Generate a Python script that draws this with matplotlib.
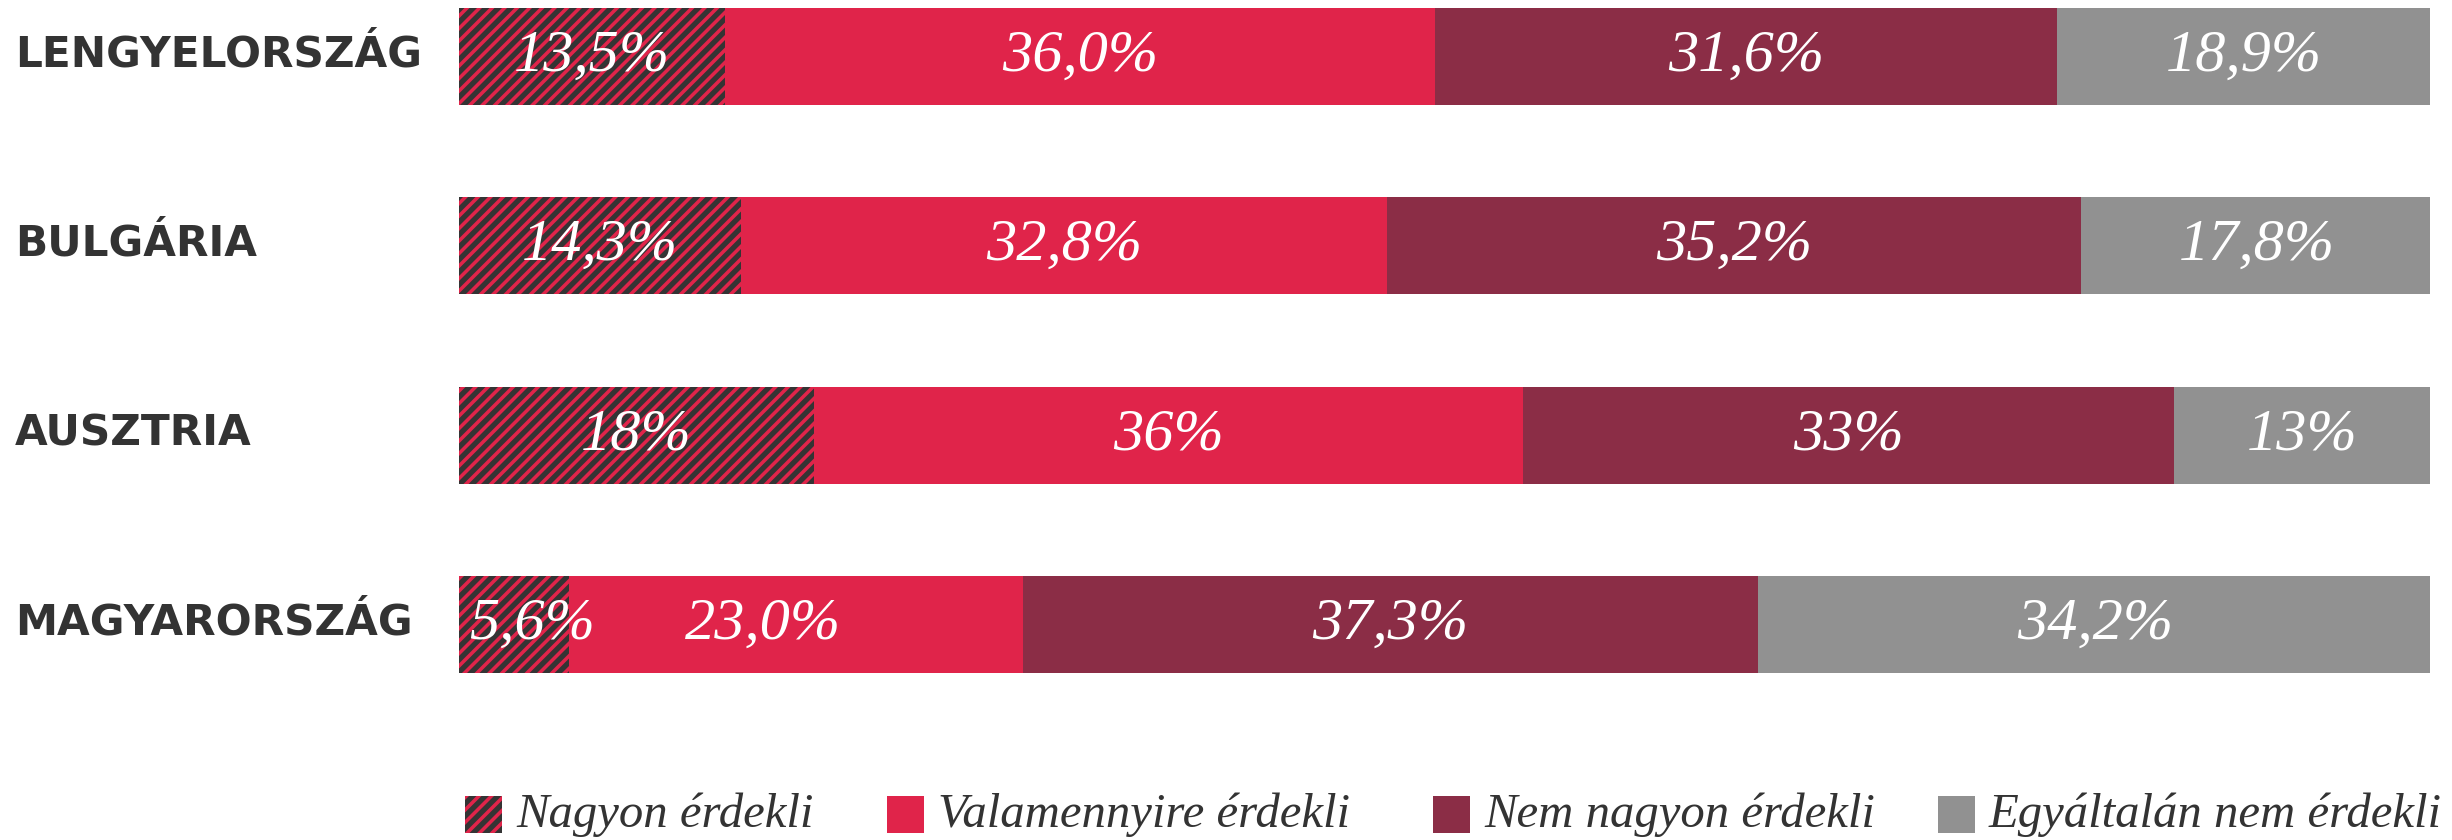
import numpy as np
import matplotlib
matplotlib.use("Agg")
import matplotlib.pyplot as plt
from matplotlib.patches import Rectangle

countries = ["LENGYELORSZÁG", "BULGÁRIA", "AUSZTRIA", "MAGYARORSZÁG"]
series = ["Nagyon érdekli", "Valamennyire érdekli", "Nem nagyon érdekli",
          "Egyáltalán nem érdekli"]
nagyon = [13.5, 14.3, 18, 5.6]
valamennyire = [36.0, 32.8, 36, 23.0]
nem_nagyon = [31.6, 35.2, 33, 37.3]
egyaltalan = [18.9, 17.8, 13, 34.2]
labels = [["13,5%", "36,0%", "31,6%", "18,9%"],
          ["14,3%", "32,8%", "35,2%", "17,8%"],
          ["18%", "36%", "33%", "13%"],
          ["5,6%", "23,0%", "37,3%", "34,2%"]]

DARK = "#343434"
RED = "#e0244a"
MAROON = "#8b2d46"
GREY = "#919191"
TXT = "#333333"
SERIF = "Liberation Serif"

plt.rcParams["hatch.linewidth"] = 1.7

W, HT, DPI = 2453, 840, 150
fig = plt.figure(figsize=(W / DPI, HT / DPI), dpi=DPI)
ax = fig.add_axes([459 / W, 1 - 673 / HT, (2430 - 459) / W, 665 / HT])

y = np.arange(len(countries))
H = 0.512
vals = np.array([nagyon, valamennyire, nem_nagyon, egyaltalan])
left = np.zeros(len(countries))
styles = [dict(facecolor=DARK, hatch="////", edgecolor=RED, linewidth=0),
          dict(facecolor=RED, linewidth=0),
          dict(facecolor=MAROON, linewidth=0),
          dict(facecolor=GREY, linewidth=0)]
for k in range(4):
    ax.barh(y, vals[k], left=left, height=H, **styles[k])
    for i in range(len(countries)):
        xc = left[i] + vals[k][i] / 2
        ha = "center"
        # tiny first segment: label starts near the bar edge (as in the original)
        if k == 0 and vals[k][i] < 8:
            xc, ha = left[i] + 0.5, "left"
        if k == 1 and vals[0][i] < 8:
            xc -= 1.7
        ax.text(xc, y[i], labels[i][k], ha=ha, va="center", color="white",
                fontsize=29, fontstyle="italic", family=SERIF)
    left += vals[k]

ax.set_xlim(0, 100)
ax.set_ylim(3 + H / 2, -H / 2)
ax.axis("off")

for i, c in enumerate(countries):
    ax.text(-444 / 19.71, y[i] - 0.01, c, ha="left", va="center",
            color=TXT, fontsize=20.3, fontweight="bold", family="DejaVu Sans",
            clip_on=False)

# legend, placed by hand (uneven gaps in the original)
patch_x = [465, 887, 1433, 1938]
for k in range(4):
    st = dict(styles[k])
    fig.add_artist(Rectangle((patch_x[k] / W, 1 - 833 / HT), 37 / W, 37 / HT,
                             transform=fig.transFigure, **st))
    fig.text((patch_x[k] + 51) / W, 1 - 815 / HT, series[k], ha="left",
             va="center", color=TXT, fontsize=23.4, fontstyle="italic",
             family=SERIF)

fig.savefig("out.png", dpi=DPI)
